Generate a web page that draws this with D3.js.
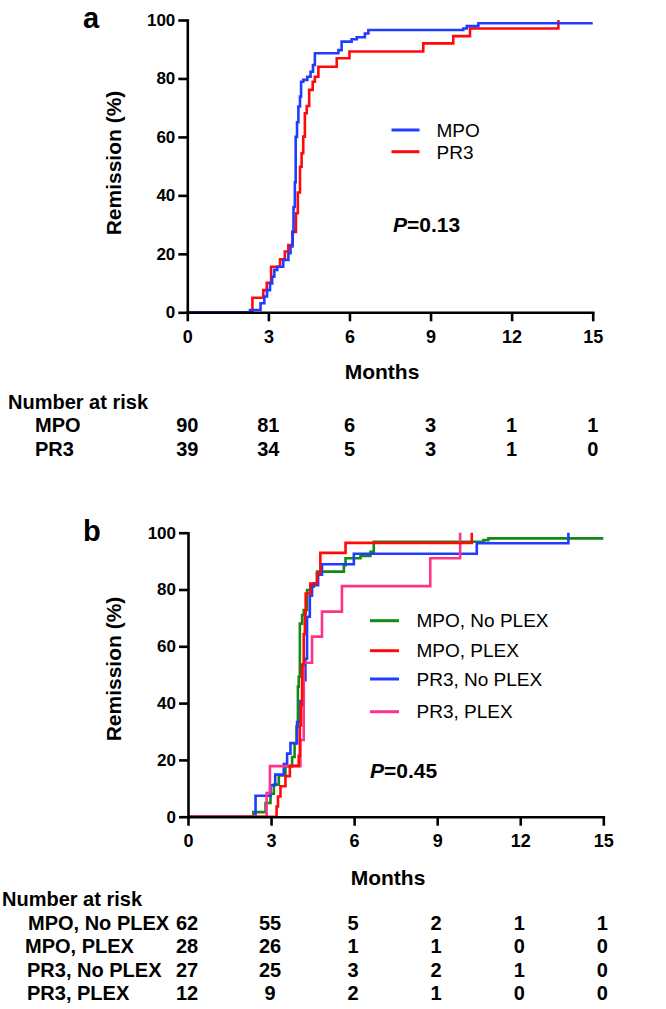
<!DOCTYPE html>
<html><head><meta charset="utf-8">
<script src="https://cdn.jsdelivr.net/npm/d3@7/dist/d3.min.js"></script>
<style>
body{margin:0;background:#fff}
svg{display:block}
text{font-family:"Liberation Sans",Arial,Helvetica,sans-serif;fill:#000}
</style>
</head><body>
<svg id="chart" width="666" height="1009"></svg>
<script>
// ---------- shared ----------
const monthTicks = [0, 3, 6, 9, 12, 15];
const pctTicks = [0, 20, 40, 60, 80, 100];

// ---------- panel a ----------
const aMpoTime = [0, 2.32, 2.71, 2.85, 2.95, 3.06, 3.14, 3.22, 3.33, 3.55, 3.74, 3.82, 3.89, 3.93, 3.98, 4.01, 4.06, 4.11, 4.17, 4.21, 4.29, 4.44, 4.56, 4.65, 4.72, 5.59, 5.71, 6.08, 6.27, 6.57, 6.70, 10.21, 10.34, 10.77, 15.0];
const aMpoPct  = [0, 0.8, 3.1, 5.4, 7.6, 9.9, 12.2, 14.5, 15.6, 17.9, 20.2, 22.5, 27.5, 36.0, 44.5, 60.0, 65.0, 70.4, 73.8, 78.9, 79.5, 80.6, 82.3, 84.6, 88.6, 89.7, 92.6, 93.4, 94.1, 95.4, 96.6, 97.1, 97.9, 98.9, 98.9];
const aPr3Time = [0, 2.41, 2.81, 2.94, 3.10, 3.43, 3.61, 3.74, 3.90, 4.02, 4.09, 4.17, 4.23, 4.29, 4.35, 4.42, 4.51, 4.64, 4.72, 4.85, 5.53, 6.00, 8.73, 9.84, 10.46, 13.73];
const aPr3Pct  = [0, 5.0, 7.6, 10.1, 15.6, 18.1, 20.8, 23.0, 27.5, 33.9, 41.0, 49.8, 54.4, 60.1, 68.1, 70.6, 76.1, 78.9, 80.6, 84.0, 86.9, 89.2, 92.0, 94.5, 97.1, 100];
const aGroups = ["MPO", "PR3"];
const aRiskMpo = [90, 81, 6, 3, 1, 1];
const aRiskPr3 = [39, 34, 5, 3, 1, 0];
const aPValue = "0.13";

// ---------- panel b ----------
const bMpoNoTime = [0, 2.36, 2.80, 2.98, 3.10, 3.28, 3.52, 3.76, 3.85, 3.92, 3.97, 4.00, 4.04, 4.12, 4.18, 4.30, 4.42, 4.54, 4.66, 5.63, 5.69, 6.23, 6.59, 6.71, 10.67, 10.85, 15.0];
const bMpoNoPct  = [0, 1.6, 4.8, 8.1, 11.3, 14.5, 17.7, 21.0, 25.8, 31.7, 45.8, 49.3, 68.0, 71.0, 72.8, 79.8, 81.0, 82.2, 86.3, 88.6, 91.0, 91.8, 93.3, 96.8, 97.4, 98.0, 98.0];
const bMpoPlexTime = [0, 3.20, 3.25, 3.34, 3.52, 3.68, 4.00, 4.04, 4.08, 4.12, 4.18, 4.22, 4.25, 4.42, 4.66, 4.78, 5.69, 10.25];
const bMpoPlexPct  = [0, 3.6, 7.1, 10.7, 14.3, 17.9, 21.4, 32.1, 39.3, 53.6, 64.3, 71.4, 78.6, 82.1, 85.7, 92.9, 96.4, 100];
const bPr3NoTime = [0, 2.44, 2.98, 3.15, 3.46, 3.58, 3.70, 3.94, 4.06, 4.18, 4.24, 4.30, 4.40, 4.48, 4.70, 4.84, 5.99, 10.43, 13.74];
const bPr3NoPct  = [0, 7.4, 11.1, 14.8, 18.5, 22.2, 25.9, 33.3, 40.7, 48.1, 55.6, 70.4, 77.8, 81.5, 85.2, 88.9, 92.6, 96.3, 100];
const bPr3PlexTime = [0, 2.84, 2.96, 4.06, 4.18, 4.48, 4.84, 5.56, 8.75, 9.83];
const bPr3PlexPct  = [0, 8.3, 17.8, 27.0, 54.2, 63.4, 72.2, 81.2, 91.0, 100];
const bGroups = ["MPO, No PLEX", "MPO, PLEX", "PR3, No PLEX", "PR3, PLEX"];
const bRiskMpoNo = [62, 55, 5, 2, 1, 1];
const bRiskMpoPlex = [28, 26, 1, 1, 0, 0];
const bRiskPr3No = [27, 25, 3, 2, 1, 0];
const bRiskPr3Plex = [12, 9, 2, 1, 0, 0];
const bPValue = "0.45";

// ---------- drawing ----------
const svg = d3.select("#chart");
const C = {blue: "#1f3cff", red: "#ff0a0a", green: "#138a13", pink: "#ff3388"};
const zip = (t, p) => t.map((v, i) => ({t: v, p: p[i]}));

function panel(o) {
  const g = svg.append("g");
  const x = d3.scaleLinear().domain([0, 15]).range(o.xr);
  const y = d3.scaleLinear().domain([0, 100]).range(o.yr);

  g.append("text").attr("x", o.letter[1]).attr("y", o.letter[2])
    .attr("font-size", 29).attr("font-weight", "bold").text(o.letter[0]);

  g.append("text").attr("transform", `translate(${o.ylab[0]},${o.ylab[1]}) rotate(-90)`)
    .attr("text-anchor", "middle").attr("font-size", 21).attr("font-weight", "bold")
    .text("Remission (%)");

  const line = d3.line().x(d => x(d.t)).y(d => y(d.p)).curve(d3.curveStepAfter);
  o.series.forEach(s => {
    g.append("path").attr("d", line(zip(s.t, s.p))).attr("fill", "none")
      .attr("stroke", s.c).attr("stroke-width", 2.6).attr("stroke-linejoin", "miter");
  });

  const ya = d3.axisLeft(y).tickValues(pctTicks).tickSize(9).tickSizeOuter(0).tickPadding(3);
  const xa = d3.axisBottom(x).tickValues(monthTicks).tickSize(9).tickSizeOuter(0).tickPadding(9);
  const gy = g.append("g").attr("transform", `translate(${o.xr[0]},0)`).call(ya);
  const gx = g.append("g").attr("transform", `translate(0,${o.yr[0]})`).call(xa);
  [gy, gx].forEach(a => {
    a.selectAll("path,line").attr("stroke", "#000").attr("stroke-width", 2.6);
    a.select(".domain").attr("stroke-linecap", "square");
    a.selectAll("text").attr("font-family", "Liberation Sans, Arial, sans-serif")
      .attr("font-weight", "bold").attr("fill", "#000");
  });
  gy.selectAll("text").attr("font-size", 17);
  gx.selectAll("text").attr("font-size", 18);

  g.append("text").attr("x", o.months[0]).attr("y", o.months[1]).attr("text-anchor", "middle")
    .attr("font-size", 21).attr("font-weight", "bold").text("Months");

  o.series.forEach((s, i) => {
    const ly = o.leg.y[i];
    g.append("line").attr("x1", o.leg.x1).attr("x2", o.leg.x2).attr("y1", ly).attr("y2", ly)
      .attr("stroke", s.c).attr("stroke-width", 3);
    g.append("text").attr("x", o.leg.tx).attr("y", ly + o.leg.dy).attr("font-size", 19).text(s.name);
  });

  const pt = g.append("text").attr("x", o.p[0]).attr("y", o.p[1]).attr("font-size", 21).attr("font-weight", "bold");
  pt.append("tspan").attr("font-style", "italic").text("P");
  pt.append("tspan").text("=" + o.p[2]);

  g.append("text").attr("x", o.risk.hx).attr("y", o.risk.hy).attr("font-size", 20)
    .attr("font-weight", "bold").text("Number at risk");
  o.series.forEach((s, i) => {
    const ry = o.risk.y[i];
    g.append("text").attr("x", o.risk.lx[i]).attr("y", ry)
      .attr("font-size", 20).attr("font-weight", "bold").text(s.name);
    s.risk.forEach((n, j) => {
      g.append("text").attr("x", x(monthTicks[j]) + o.risk.nx).attr("y", ry)
        .attr("text-anchor", "middle").attr("font-size", 20).attr("font-weight", "bold").text(n);
    });
  });
}

panel({
  xr: [187.3, 592.7], yr: [312.3, 20],
  letter: ["a", 83, 28], ylab: [121, 163], months: [382, 379],
  series: [
    {name: aGroups[1], t: aPr3Time, p: aPr3Pct, c: C.red, risk: aRiskPr3},
    {name: aGroups[0], t: aMpoTime, p: aMpoPct, c: C.blue, risk: aRiskMpo}
  ],
  leg: {x1: 391.5, x2: 419.5, tx: 436.5, dy: 7.3, y: [151.7, 130]},
  p: [393, 231.7, aPValue],
  risk: {hx: 8, hy: 409, lx: [35, 35], nx: 0, y: [456, 432]}
});

panel({
  xr: [188, 603.3], yr: [816.7, 532.7],
  letter: ["b", 83, 540.7], ylab: [121, 669], months: [388, 885],
  series: [
    {name: bGroups[0], t: bMpoNoTime, p: bMpoNoPct, c: C.green, risk: bRiskMpoNo},
    {name: bGroups[2], t: bPr3NoTime, p: bPr3NoPct, c: C.blue, risk: bRiskPr3No},
    {name: bGroups[3], t: bPr3PlexTime, p: bPr3PlexPct, c: C.pink, risk: bRiskPr3Plex},
    {name: bGroups[1], t: bMpoPlexTime, p: bMpoPlexPct, c: C.red, risk: bRiskMpoPlex}
  ],
  leg: {x1: 370, x2: 399, tx: 416.5, dy: 6.6, y: [620.7, 679, 711.7, 650.7]},
  p: [370, 778.3, bPValue],
  risk: {hx: 2, hy: 906, lx: [28, 27, 27, 25], nx: -1, y: [929.5, 976.5, 1000, 953]}
});
</script>
</body></html>
